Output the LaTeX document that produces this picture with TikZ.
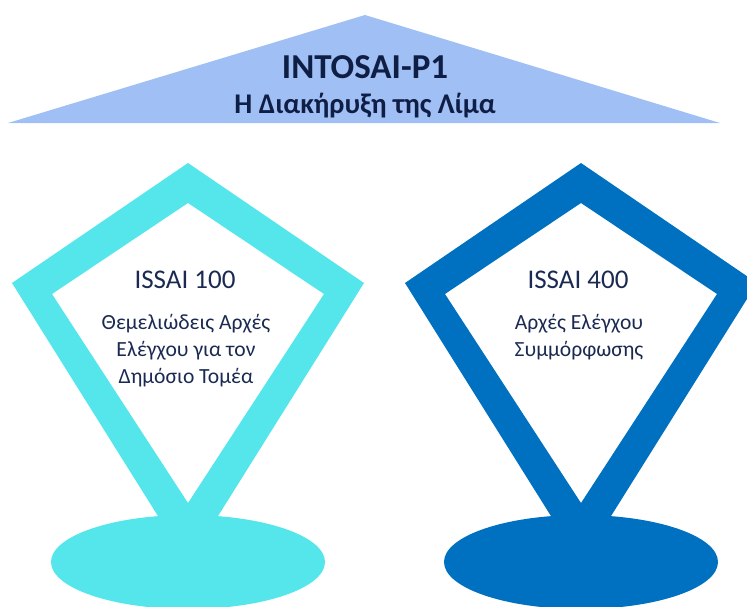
\documentclass[tikz,border=0pt]{standalone}
\usepackage{fontspec}
\setmainfont{Carlito}
\usepackage{xcolor}
\usepackage{tikz}
\usetikzlibrary{calc}

\definecolor{roofblue}{HTML}{A0BFF4}
\definecolor{badgecyan}{HTML}{55E6EC}
\definecolor{badgeblue}{HTML}{0070C0}
\definecolor{navytext}{HTML}{1B2A52}
\definecolor{titlenavy}{HTML}{0F1E45}

\begin{document}
\begin{tikzpicture}[x=1pt, y=-1pt]
  % Sizes
  \newcommand\outerW{176}      % = half width of the badge
  \newcommand\innerW{136}      % = half width of the hole
  \newcommand\footRX{137}      % = foot radius

  \useasboundingbox (0,0) rectangle (747,606);

  % Roof
  \fill[roofblue] (8,123) -- (365,15) -- (720,123) -- cycle;
  \node[font=\bfseries\fontsize{35}{40}\selectfont, text=titlenavy, anchor=base] (roof title) at (365,78) {INTOSAI-P1};
  \node[font=\bfseries\fontsize{28.5}{32}\selectfont, text=titlenavy, anchor=base] (roof sub) at (365,113) {Η Διακήρυξη της Λίμα};

  % Badges
  \foreach \cx/\col/\nm/\head/\body in {%
      188/badgecyan/one/{ISSAI 100}/{Θεμελιώδεις Αρχές\\Ελέγχου για τον\\Δημόσιο Τομέα},
      581/badgeblue/two/{ISSAI 400}/{Αρχές Ελέγχου\\Συμμόρφωσης}} {
    \fill[\col] (\cx,562) ellipse[x radius=\footRX, y radius=47];
    \fill[\col, even odd rule]
      (\cx,163) -- (\cx-\outerW,283) -- (\cx,564) -- (\cx+\outerW,283) -- cycle
      (\cx,203) -- (\cx-\innerW,294) -- (\cx,503) -- (\cx+\innerW,294) -- cycle;
    \node[font=\fontsize{27}{30}\selectfont, text=navytext, anchor=base] (\nm head) at (\cx-3,288) {\head};
    \node[font=\fontsize{21.6}{27}\selectfont, text=navytext, align=center, anchor=north] (\nm body) at (\cx-2,311) {\body};
  }

\end{tikzpicture}
\end{document}
